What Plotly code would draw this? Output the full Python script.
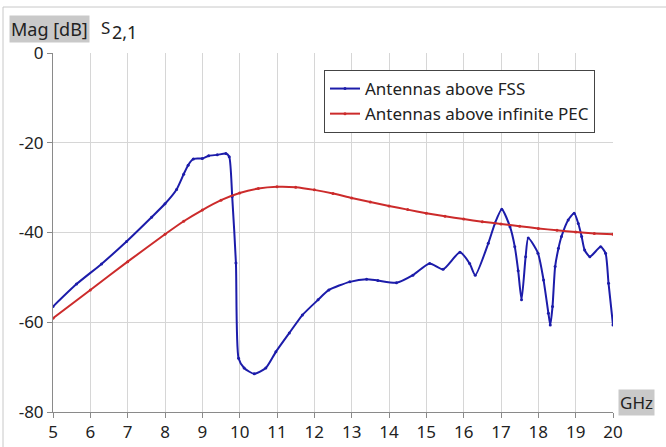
import plotly.graph_objects as go

# ---- data ----
fss_freq = [5.0, 5.63, 6.3, 6.97, 7.64, 8.0, 8.31, 8.5, 8.62, 8.76, 9.0, 9.17, 9.4, 9.63, 9.72,
            9.8, 9.9, 9.97, 10.12, 10.39, 10.7, 10.97, 11.33, 11.68, 12.1, 12.39, 12.95, 13.4,
            13.7, 14.2, 14.64, 15.09, 15.45, 15.9, 16.16, 16.31, 16.66, 16.84, 17.02, 17.24,
            17.37, 17.46, 17.55, 17.66, 17.73, 17.99, 18.14, 18.27, 18.32, 18.38, 18.45, 18.54,
            18.62, 18.8, 18.96, 19.07, 19.16, 19.24, 19.38, 19.67, 19.8, 19.88, 20.0]
fss_db = [-56.5, -51.5, -47.0, -42.0, -36.6, -33.6, -30.4, -27.0, -25.0, -23.6, -23.5, -22.9, -22.7,
          -22.4, -23.1, -32.0, -46.8, -68.0, -70.2, -71.5, -70.2, -66.6, -62.4, -58.4, -55.0, -52.8,
          -51.0, -50.4, -50.7, -51.2, -49.5, -46.9, -48.2, -44.4, -46.9, -49.5, -42.4, -37.9, -34.8,
          -38.7, -43.2, -48.5, -55.0, -45.4, -41.2, -44.6, -50.6, -58.0, -60.6, -56.5, -47.6, -43.5,
          -40.9, -37.2, -35.7, -38.0, -40.9, -43.9, -45.4, -43.2, -44.6, -51.3, -60.6]

pec_freq = [5.0, 6.0, 7.0, 8.0, 8.5, 9.0, 9.5, 10.0, 10.5, 11.0, 11.5, 12.0, 12.5, 13.0, 13.5,
            14.0, 14.5, 15.0, 15.5, 16.0, 16.5, 17.0, 17.5, 18.0, 18.5, 19.0, 19.5, 20.0]
pec_db = [-59.1, -52.8, -46.5, -40.4, -37.5, -35.0, -32.8, -31.2, -30.2, -29.8, -29.9, -30.5,
          -31.3, -32.3, -33.2, -34.1, -34.9, -35.7, -36.4, -37.0, -37.6, -38.1, -38.6, -39.1,
          -39.5, -39.9, -40.2, -40.4]

x_ticks = list(range(5, 21))
y_ticks = [0, -20, -40, -60, -80]

FONT = "Noto Sans"
FS = 17
BLUE = "#1c1caa"
RED = "#cc2b2b"

fig = go.Figure()
fig.add_trace(go.Scatter(x=fss_freq, y=fss_db, name="Antennas above FSS",
                         mode="lines+markers",
                         line=dict(color=BLUE, width=2, shape="spline", smoothing=0.6),
                         marker=dict(size=3, color=BLUE)))
fig.add_trace(go.Scatter(x=pec_freq, y=pec_db, name="Antennas above infinite PEC",
                         mode="lines+markers",
                         line=dict(color=RED, width=2, shape="spline", smoothing=0.6),
                         marker=dict(size=3, color=RED)))

L, R, T, B = 53, 53, 53, 35
W, H = 666, 447
pw, ph = W - L - R, H - T - B

def px(xp):
    return (xp - L) / pw

def py(yp):
    return (H - B - yp) / ph

fig.update_layout(
    width=W, height=H,
    margin=dict(l=L, r=R, t=T, b=B, autoexpand=False),
    paper_bgcolor="white", plot_bgcolor="white",
    font=dict(family=FONT, size=FS, color="#222"),
    showlegend=True,
    legend=dict(x=px(324), y=py(70), xanchor="left", yanchor="top",
                bordercolor="#444", borderwidth=1, bgcolor="white",
                font=dict(size=FS, family=FONT, color="#222"),
                tracegroupgap=0, itemwidth=30),
    xaxis=dict(range=[5, 20], tickvals=x_ticks, ticktext=[str(v) for v in x_ticks],
               showgrid=True, gridcolor="#d6d6d6", gridwidth=1,
               showline=True, linecolor="#8a8a8a", linewidth=1,
               ticks="outside", ticklen=5, tickcolor="#8a8a8a", automargin=False,
               zeroline=False, tickfont=dict(size=FS)),
    yaxis=dict(range=[-80, 0], tickvals=y_ticks, ticktext=[str(v) for v in y_ticks],
               showgrid=True, gridcolor="#d6d6d6", gridwidth=1,
               showline=True, linecolor="#8a8a8a", linewidth=1,
               ticks="outside", ticklen=5, tickcolor="#8a8a8a", automargin=False,
               zeroline=False, tickfont=dict(size=FS)),
)

# outer frame lines (top and left visible in reference)
fig.add_shape(type="line", xref="paper", yref="paper", x0=px(3), x1=px(666), y0=py(7), y1=py(7),
              line=dict(color="#c8c8c8", width=1))
fig.add_shape(type="line", xref="paper", yref="paper", x0=px(3), x1=px(3), y0=py(7), y1=py(447),
              line=dict(color="#c8c8c8", width=1))

# axis title boxes
fig.add_annotation(xref="paper", yref="paper", x=px(9), y=py(15), xanchor="left", yanchor="top",
                   text="Mag [dB]", showarrow=False, bgcolor="#c9c9c9",
                   font=dict(size=FS + 1, family=FONT, color="#222"), borderpad=1)
fig.add_annotation(xref="paper", yref="paper", x=px(99), y=py(14), xanchor="left", yanchor="top",
                   text="S", showarrow=False, font=dict(size=FS, family=FONT, color="#222"))
fig.add_annotation(xref="paper", yref="paper", x=px(110), y=py(18), xanchor="left", yanchor="top",
                   text="2,1", showarrow=False, font=dict(size=FS + 1, family=FONT, color="#222"))
fig.add_annotation(xref="paper", yref="paper", x=px(618), y=py(389), xanchor="left", yanchor="top",
                   text="GHz", showarrow=False, bgcolor="#c9c9c9",
                   font=dict(size=FS, family=FONT, color="#222"), borderpad=1)

fig.write_html("out.html")
